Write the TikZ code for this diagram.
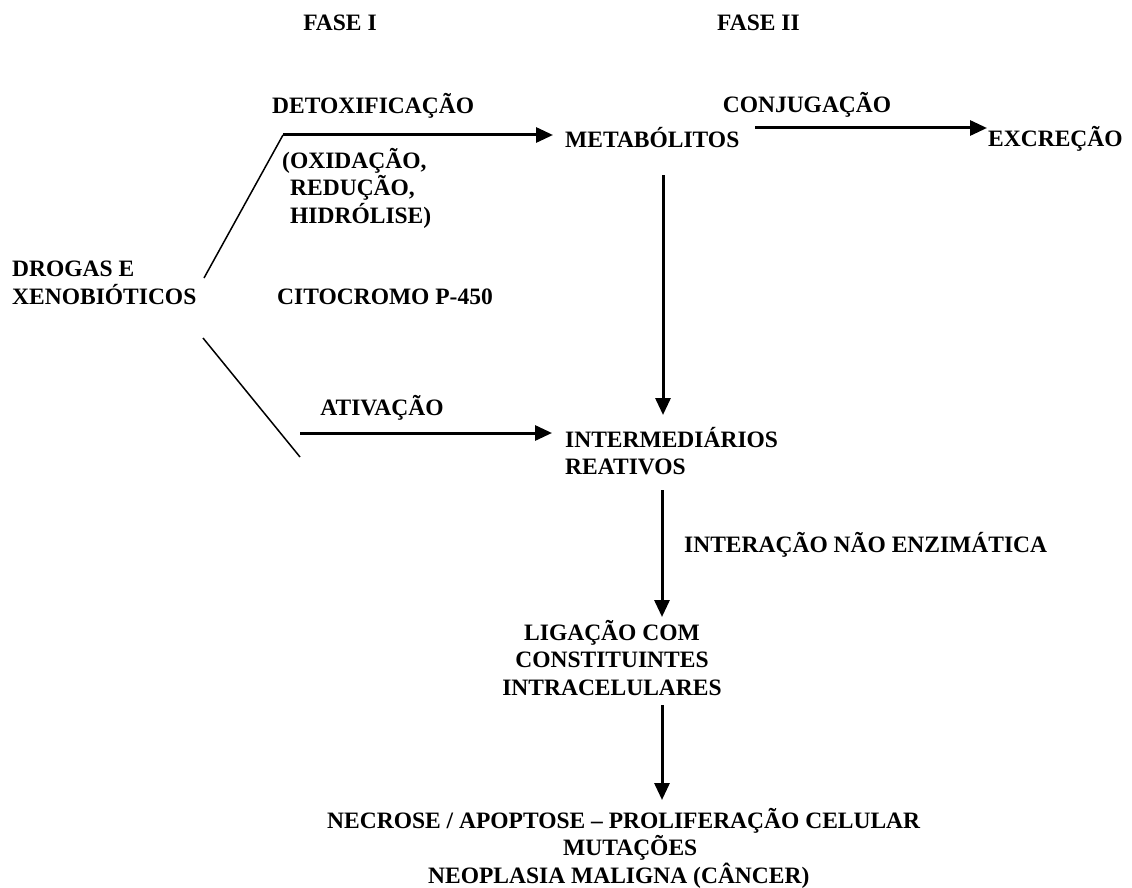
\documentclass[tikz,border=0pt]{standalone}
\usepackage{fontspec}
\setmainfont{Liberation Serif}
\usetikzlibrary{arrows.meta}
\tikzset{
  lbl/.style={inner sep=0pt, font=\fontsize{23.5}{27.5}\selectfont\bfseries},
  arr/.style={line width=3pt, -{Triangle[length=17pt,width=15pt]}},
  thin/.style={line width=1.5pt}
}
\begin{document}
\begin{tikzpicture}[x=1pt,y=-1pt]
\fill[white] (0,0) rectangle (1132,888);
\useasboundingbox (0,0) rectangle (1132,888);
\node[lbl] (fase1) at (340,23) {FASE I};
\node[lbl,anchor=west] (fase2) at (717,23) {FASE II};
\node[lbl,anchor=west] (detox) at (272,106) {DETOXIFICAÇÃO};
\node[lbl,anchor=west,align=left] (oxi) at (282,188) {(OXIDAÇÃO,\\\hspace*{8pt}REDUÇÃO,\\\hspace*{8pt}HIDRÓLISE)};
\node[lbl,anchor=west,align=left] (drogas) at (12,283) {DROGAS E\\XENOBIÓTICOS};
\node[lbl,anchor=west] (cito) at (277,297) {CITOCROMO P-450};
\node[lbl,anchor=west] (metab) at (565,138) {METABÓLITOS};
\node[lbl] (conj) at (807,105) {CONJUGAÇÃO};
\node[lbl,anchor=west] (excr) at (988,139) {EXCREÇÃO};
\node[lbl] (ativ) at (382,408) {ATIVAÇÃO};
\node[lbl,anchor=west,align=left] (inter) at (565,451) {INTERMEDIÁRIOS\\REATIVOS};
\node[lbl,anchor=west] (inte) at (684,545) {INTERAÇÃO NÃO ENZIMÁTICA};
\node[lbl,align=center] (lig) at (612,658) {LIGAÇÃO COM\\CONSTITUINTES\\INTRACELULARES};
\node[lbl,anchor=west,align=left] (necr) at (327,848) {NECROSE / APOPTOSE -- PROLIFERAÇÃO CELULAR\\\hspace*{236pt}MUTAÇÕES\\\hspace*{101pt}NEOPLASIA MALIGNA (CÂNCER)};
% coordinates
\coordinate (d1) at (204,278);
\coordinate (dt) at (283,135);
\coordinate (d2) at (203,338);
\coordinate (d3) at (300,457);
\coordinate (at) at (300,433);
\coordinate (ca) at (755,128);
\coordinate (m1) at (663,175);
\coordinate (r1) at (662,490);
\coordinate (l1) at (662,705);
% connectors
\draw[thin] (d1) -- (dt);
\draw[arr] (dt) -- ([xshift=-12pt]dt -| metab.west);
\draw[arr] (ca) -- ([xshift=-1pt]ca -| excr.west);
\draw[thin] (d2) -- (d3);
\draw[arr] (at) -- ([xshift=-13pt]at -| inter.west);
\draw[arr] (m1) -- (m1 |- 0,415);
\draw[arr] (r1) -- (r1 |- 0,617);
\draw[arr] (l1) -- (l1 |- 0,800);
\end{tikzpicture}
\end{document}
